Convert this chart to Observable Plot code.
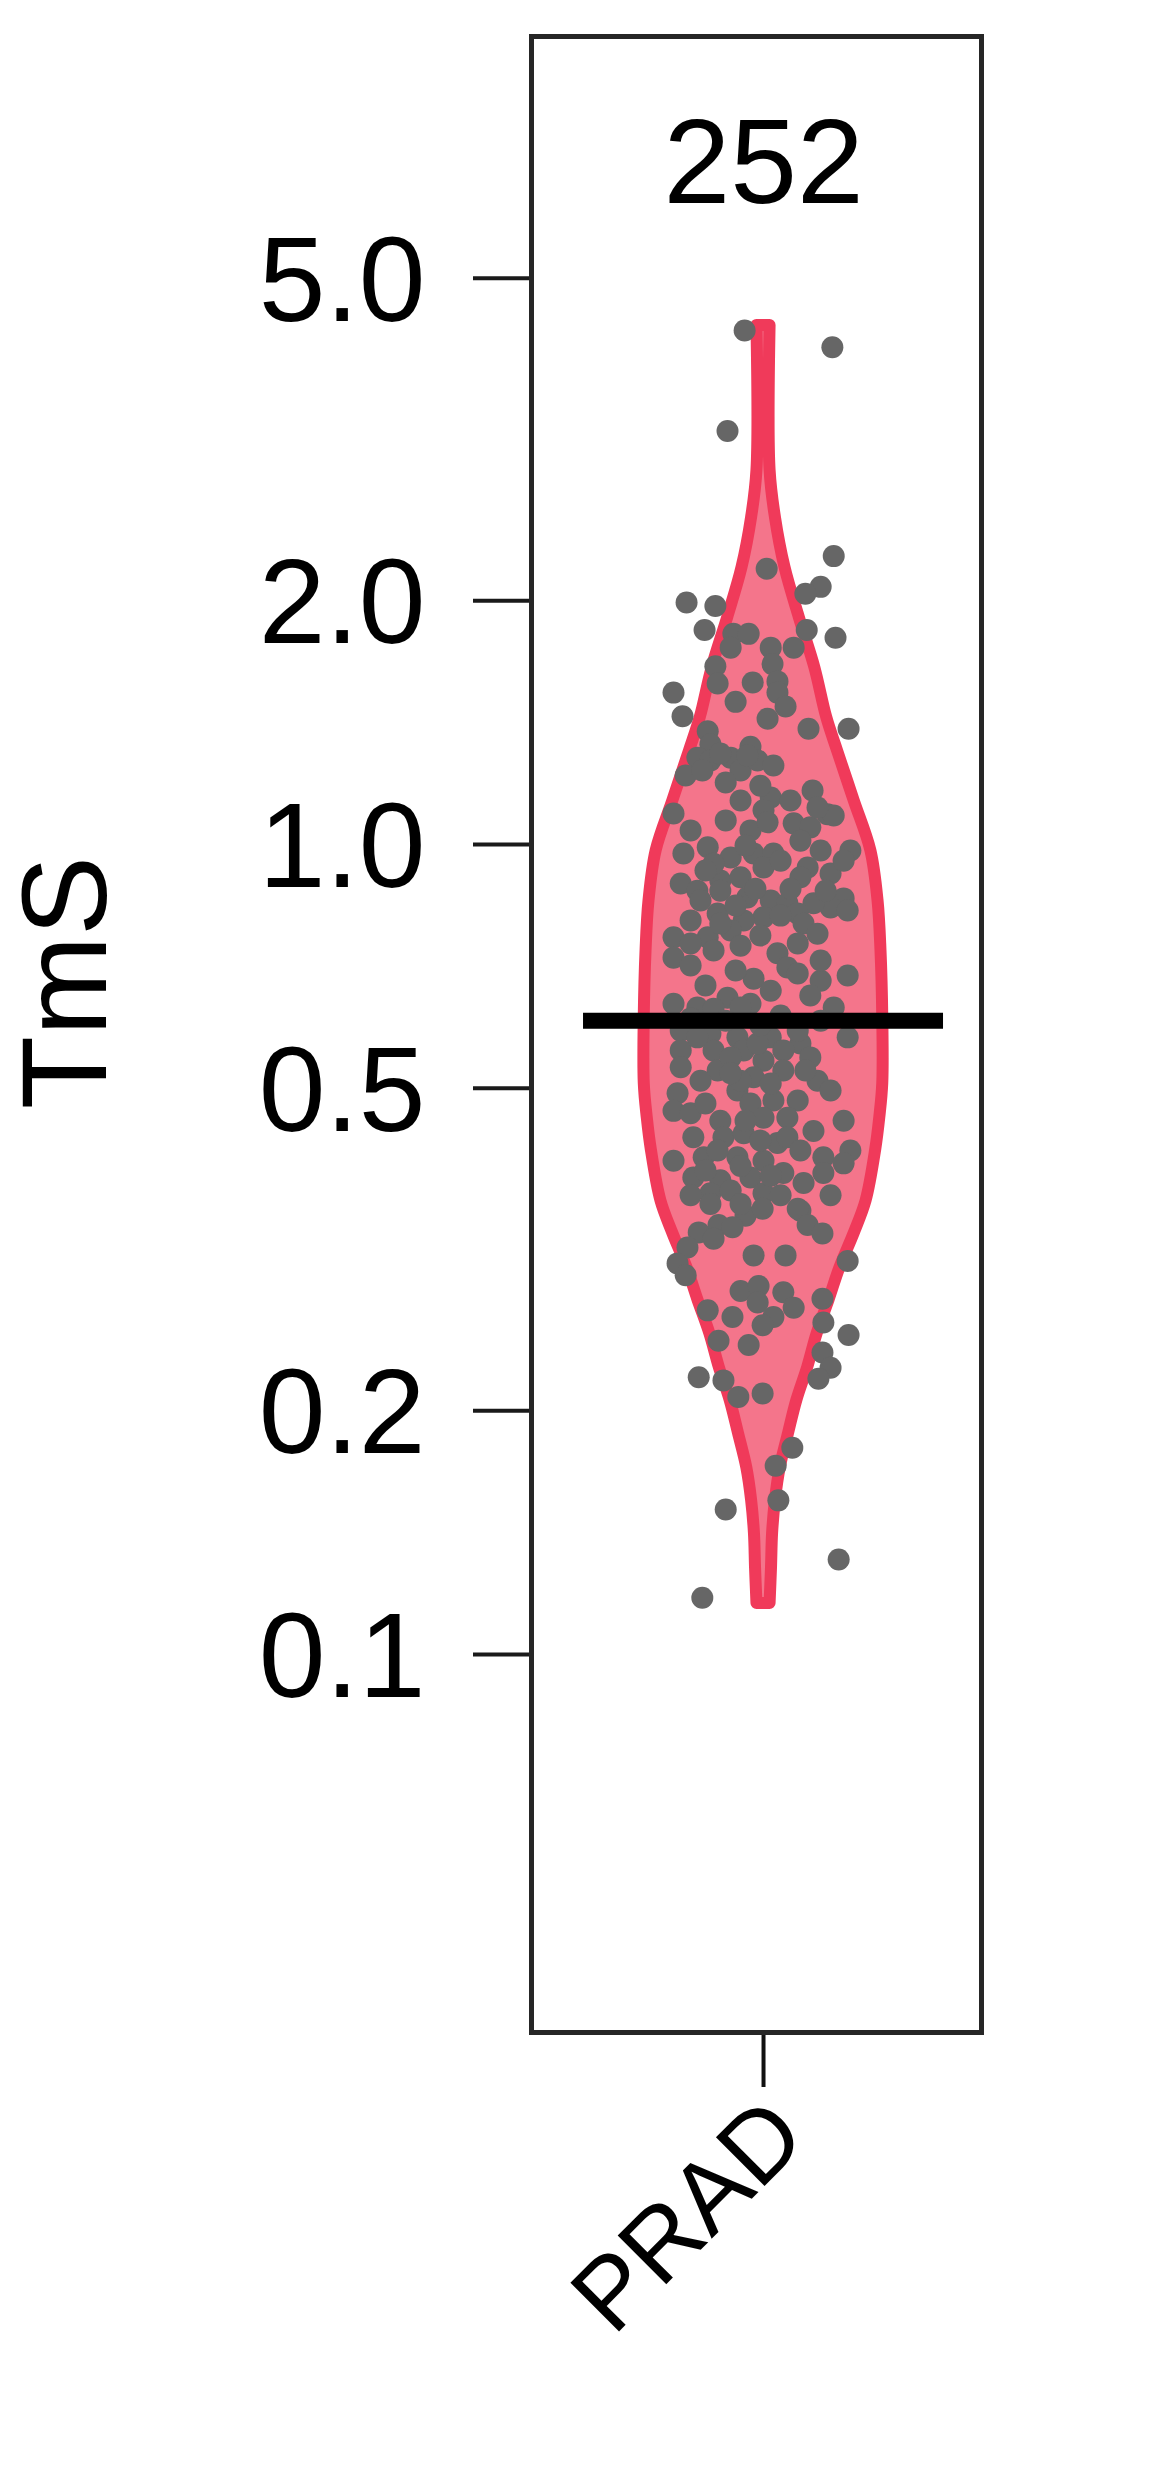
<!DOCTYPE html>
<html>
<head>
<meta charset="utf-8">
<script src="https://cdn.jsdelivr.net/npm/d3@7"></script>
<script src="https://cdn.jsdelivr.net/npm/@observablehq/plot@0.6"></script>
<style>
  html, body { margin: 0; padding: 0; background: #ffffff; }
  #chart { width: 1159px; height: 2487px; }
</style>
</head>
<body>
<div id="chart"></div>
<script>
// ---------------- data ----------------
const categories = ["PRAD"];
const counts = [252];
const medians = [0.606];
const yTicks = [0.1, 0.2, 0.5, 1.0, 2.0, 5.0];
const yLabel = "TmS";

// TmS value of each sample (252)
const tmsValues = [
  4.31,4.11,3.24,2.27,2.19,2.08,2.04,1.99,1.97,1.84,1.82,1.82,1.84,1.80,1.75,1.75,1.75,1.67,1.66,1.58,1.585,1.59,1.54,1.54,1.50,1.48,1.44,1.43,1.39,1.39,1.38,1.33,1.32,
  1.28,1.27,1.28,1.234,1.27,1.252,1.217,1.295,1.288,
  1.133,1.143,1.166,1.102,1.092,1.09,1.062,1.050,1.086,1.041,1.065,1.111,
  0.975,0.992,0.964,0.975,0.975,0.937,0.921,0.983,0.895,0.877,0.903,0.911,0.877,0.860,0.853,0.846,0.955,0.911,0.947,0.937,
  0.858,0.836,0.846,0.822,0.813,0.806,0.822,0.806,0.768,0.768,0.725,0.740,0.783,0.799,0.776,0.755,0.734,0.705,0.829,0.755,0.799,
  0.683,0.693,0.679,0.689,0.636,0.629,0.647,0.636,0.629,0.627,0.629,
  0.589,0.584,0.578,0.578,0.568,0.578,0.557,0.557,0.557,0.541,0.546,0.531,0.526,0.578,0.568,0.589,0.557,0.546,
  0.516,0.526,0.511,0.493,0.497,0.483,0.483,0.469,0.466,0.456,0.479,0.460,0.460,0.511,0.507,
  0.456,0.419,0.443,0.435,0.435,0.440,0.428,0.407,0.411,0.411,0.407,0.411,0.435,0.419,
  0.388,0.385,0.388,0.393,0.382,0.393,0.371,0.371,0.374,0.404,
  1.234,1.193,1.182,1.133,1.011,1.071,1.041,0.997,0.955,0.983,
  0.929,0.882,0.882,0.877,0.841,0.817,0.853,0.772,0.750,0.719,
  0.709,0.699,0.660,0.651,0.670,0.610,0.606,0.615,0.606,0.598,
  0.511,0.522,0.526,0.497,0.479,0.456,0.419,0.431,0.396,0.401,
  0.369,0.369,0.369,0.353,0.348,0.390,
  0.360,0.360,0.355,0.355,0.332,0.339,0.337,0.326,0.339,0.331,0.318,0.304,0.294,0.311,0.311,0.306,0.281,0.285,0.280,0.272,0.268,0.275,0.266,0.261,0.261,0.255,0.257,0.248,0.244,0.241,0.236,0.226,0.219,0.220,0.218,0.208,0.210,0.180,0.171,0.151,0.155,0.131,0.1175
];

// horizontal jitter of each sample, in category widths (252)
const jitter = [
  -0.042,0.153,-0.080,0.156,0.007,0.127,0.093,-0.171,-0.107,-0.131,-0.067,-0.033,0.096,0.160,-0.073,0.016,0.067,0.020,-0.107,-0.102,-0.024,0.031,-0.200,0.031,-0.062,0.049,-0.180,0.009,0.100,0.189,-0.124,-0.118,-0.029,
  -0.147,-0.118,-0.073,-0.051,-0.013,0.022,-0.173,-0.096,-0.036,
  -0.051,0.016,0.109,0,-0.200,0.142,0.067,0.104,0.156,-0.029,0.009,0.120,
  -0.178,-0.124,-0.073,-0.022,0.022,0.098,0.149,0.193,-0.184,-0.147,-0.096,-0.051,-0.096,-0.036,0.016,0.053,0.178,0.082,-0.111,0,
  0.178,0.149,0.111,0.076,0,-0.044,-0.102,-0.162,-0.200,-0.124,-0.200,-0.111,-0.073,0.089,0.120,0.076,0.031,0.053,0.187,-0.162,-0.096,
  -0.022,0.076,0.127,0.187,-0.200,-0.147,-0.080,-0.029,0.156,-0.111,-0.051,
  -0.184,-0.118,-0.058,0.016,0.082,0.187,-0.184,-0.111,-0.044,0,0.104,-0.184,-0.102,-0.147,-0.013,0.076,0.044,-0.073,
  -0.022,0.044,0.120,-0.191,-0.058,0.022,0.076,-0.200,-0.162,-0.096,-0.029,0,0.053,-0.051,0.016,
  0.178,0.193,0.111,-0.156,-0.089,-0.044,0.031,-0.200,-0.133,-0.058,0,0.133,0.053,-0.102,
  -0.156,-0.096,-0.029,0.044,0.089,0.133,-0.118,0,-0.073,0.178,
  -0.136,-0.084,-0.007,0.060,0.082,-0.084,-0.162,-0.040,0.038,0.127,
  -0.129,-0.018,0.060,0.138,-0.062,0.038,-0.140,-0.007,-0.051,0.127,
  -0.162,-0.062,0.016,0.104,-0.129,-0.162,-0.084,0.038,0.127,-0.007,
  -0.140,-0.073,0.093,0.149,-0.129,-0.040,0.082,-0.007,-0.129,-0.051,
  0.038,0.149,-0.162,0.082,-0.040,0.016,
  -0.118,-0.051,-0.002,0.076,-0.144,-0.100,-0.069,-0.111,0.098,0.131,-0.169,-0.191,-0.173,-0.022,0.049,0.187,-0.051,-0.011,0.044,-0.013,0.067,0.131,-0.124,-0.069,0.022,-0.002,0.133,0.189,-0.100,-0.033,0.131,0.149,0.122,-0.144,-0.089,-0.056,-0.002,0.064,0.027,-0.084,0.033,0.167,-0.136
];

// violin outline: TmS level and relative density (1 = widest)
const violinTmS = [4.373,2.896,2.533,2.198,1.907,1.654,1.435,1.306,1.133,0.983,0.853,0.740,0.612,0.507,0.460,0.419,0.363,0.331,0.300,0.274,0.249,0.226,0.206,0.1875,0.170,0.155,0.141,0.128,0.1156];
const violinDensity = [0.055,0.055,0.10,0.18,0.30,0.43,0.53,0.62,0.76,0.90,0.96,0.985,1.0,1.0,0.975,0.94,0.86,0.76,0.64,0.55,0.45,0.37,0.28,0.21,0.14,0.10,0.076,0.067,0.055];

// ---------------- build tables ----------------
const violinMaxHalfWidth = 0.265;   // in category widths
const medianHalfWidth = 0.4;
const catPos = (i) => i + 1;

const points = tmsValues.map((v, i) => ({x: catPos(0) + jitter[i], y: v}));
const violin = violinTmS.map((v, i) => ({
  y: v,
  x1: catPos(0) - violinDensity[i] * violinMaxHalfWidth,
  x2: catPos(0) + violinDensity[i] * violinMaxHalfWidth
}));
const cats = categories.map((c, i) => ({cat: c, pos: catPos(i), n: counts[i], median: medians[i]}));

const FONT = "'Liberation Sans', Arial, Helvetica, sans-serif";
const fmt = d3.format(".1f");

const chart = Plot.plot({
  width: 1159,
  height: 2487,
  marginLeft: 531,
  marginRight: 178,
  marginTop: 36,
  marginBottom: 455,
  style: {background: "#ffffff", color: "#000000", fontFamily: FONT, overflow: "visible"},
  x: {type: "linear", domain: [0.4844, 1.4844], axis: null},
  y: {type: "log", domain: [0.03415, 9.943], axis: null},
  marks: [
    Plot.areaX(violin, {
      y: "y", x1: "x1", x2: "x2",
      curve: "catmull-rom",
      fill: "#F4758B",
      stroke: "#F03A5A",
      strokeWidth: 12,
      strokeLinejoin: "round"
    }),
    Plot.dot(points, {x: "x", y: "y", r: 11, fill: "#666666", stroke: null}),
    Plot.ruleY(cats, {
      y: "median",
      x1: d => d.pos - medianHalfWidth,
      x2: d => d.pos + medianHalfWidth,
      stroke: "#000000",
      strokeWidth: 16
    }),
    Plot.text(cats, {
      x: "pos", y: () => 7, text: d => String(d.n),
      fontSize: 120, fill: "#000000", lineAnchor: "middle", dy: 5
    }),
    // y ticks (marks only)
    Plot.axisY({
      ticks: yTicks, tickFormat: () => "",
      tickSize: 58, stroke: "#1a1a1a", strokeWidth: 4, label: null
    }),
    // y tick labels
    Plot.text(yTicks, {
      y: d => d, frameAnchor: "left", text: d => fmt(d),
      textAnchor: "end", lineAnchor: "middle",
      fontSize: 120, fill: "#000000", dx: -106, dy: 4
    }),
    Plot.axisX({
      ticks: cats.map(d => d.pos), tickFormat: () => "",
      tickSize: 55, stroke: "#111111", strokeWidth: 4, label: null
    }),
    Plot.text(cats, {
      x: "pos", frameAnchor: "bottom", text: "cat",
      rotate: -45, textAnchor: "end", lineAnchor: "top",
      fontSize: 100, fill: "#000000", dy: 58, dx: -4
    }),
    Plot.text([yLabel], {
      frameAnchor: "left", text: d => d,
      rotate: -90, textAnchor: "middle", lineAnchor: "bottom",
      fontSize: 120, fill: "#000000", dx: -426, dy: -52
    }),
    Plot.frame({stroke: "#262626", strokeWidth: 5})
  ]
});
document.getElementById("chart").appendChild(chart);
</script>
</body>
</html>
